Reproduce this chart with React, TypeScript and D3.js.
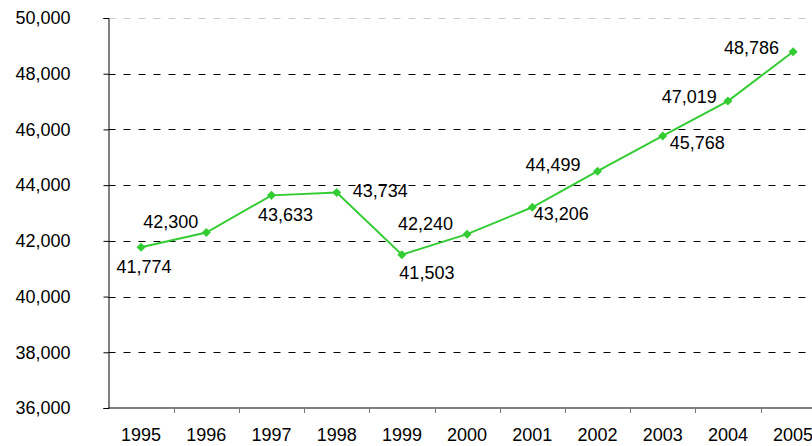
import React, { useRef, useEffect } from 'react';
import * as d3 from 'd3';

const years = ['1995', '1996', '1997', '1998', '1999', '2000', '2001', '2002', '2003', '2004', '2005'];
const values = [41774, 42300, 43633, 43734, 41503, 42240, 43206, 44499, 45768, 47019, 48786];
const yTicks = [36000, 38000, 40000, 42000, 44000, 46000, 48000, 50000];

// where each value label sits relative to its point: [anchor, dx, dy]
const labelPlacement: [string, number, number][] = [
  ['middle', 3, 26],
  ['end', -8, -5],
  ['middle', 14, 26],
  ['start', 16, 4],
  ['middle', 25, 24],
  ['end', -14, -4],
  ['middle', 29, 13],
  ['end', -17, 0],
  ['start', 7, 13],
  ['end', -11, 2],
  ['end', -14, 2],
];

const W = 812;
const H = 446;
const margin = { left: 108.5, top: 18, bottom: 38 };
const band = 65.2;
const font = 'Arial, "Liberation Sans", sans-serif';

const App = () => {
  const svgRef = useRef<SVGSVGElement>(null);

  useEffect(() => {
    const svgEl = d3.select(svgRef.current);
    svgEl.selectAll('*').remove();

    const x = d3.scaleBand()
      .domain(years)
      .range([margin.left, margin.left + band * years.length])
      .paddingInner(0)
      .paddingOuter(0);

    const y = d3.scaleLinear()
      .domain([36000, 50000])
      .range([H - margin.bottom, margin.top]);

    const fmt = d3.format(',');

    // grid lines
    svgEl.append('g')
      .selectAll('line')
      .data(yTicks.slice(1))
      .enter()
      .append('line')
      .attr('x1', margin.left)
      .attr('x2', W)
      .attr('y1', d => Math.round(y(d)) + 0.5)
      .attr('y2', d => Math.round(y(d)) + 0.5)
      .attr('stroke', d => d === 50000 ? '#c8c8c8' : '#000')
      .attr('stroke-width', 1)
      .attr('stroke-dasharray', '7,8');

    // y axis
    const yAxis = d3.axisLeft(y)
      .tickValues(yTicks)
      .tickSize(5)
      .tickPadding(33)
      .tickFormat(d => fmt(d as number));

    const yAxisGroup = svgEl.append('g')
      .attr('transform', `translate(${margin.left}, 0)`)
      .call(yAxis);

    yAxisGroup.select('.domain').attr('stroke', '#000');
    yAxisGroup.selectAll('line').attr('stroke', '#000');
    yAxisGroup.selectAll('text')
      .attr('fill', '#000')
      .attr('font-size', '18px')
      .attr('font-family', font);

    // x axis
    const xAxisGroup = svgEl.append('g')
      .attr('transform', `translate(0, ${H - margin.bottom})`);

    xAxisGroup.append('line')
      .attr('x1', margin.left)
      .attr('x2', W)
      .attr('stroke', '#000');

    xAxisGroup.selectAll('.tick')
      .data(years.slice(1))
      .enter()
      .append('line')
      .attr('x1', d => Math.round(x(d)!) + 0.5)
      .attr('x2', d => Math.round(x(d)!) + 0.5)
      .attr('y1', 0)
      .attr('y2', 5)
      .attr('stroke', '#777');

    xAxisGroup.selectAll('text')
      .data(years)
      .enter()
      .append('text')
      .attr('x', d => x(d)! + x.bandwidth() / 2)
      .attr('y', 33)
      .attr('text-anchor', 'middle')
      .attr('fill', '#000')
      .attr('font-size', '18px')
      .attr('font-family', font)
      .text(d => d);

    // data line
    const cx = (i: number) => x(years[i])! + x.bandwidth() / 2;
    const chartLine = d3.line<number>()
      .x((d, i) => cx(i))
      .y(d => y(d));

    svgEl.append('path')
      .attr('d', chartLine(values))
      .attr('fill', 'none')
      .attr('stroke', '#33cc33')
      .attr('stroke-width', 2);

    const diamond = d3.symbol().type(d3.symbolDiamond2).size(52);
    svgEl.append('g')
      .selectAll('path')
      .data(values)
      .enter()
      .append('path')
      .attr('transform', (d, i) => `translate(${cx(i)}, ${y(d)})`)
      .attr('d', diamond())
      .attr('fill', '#33cc33');

    // value labels
    svgEl.append('g')
      .selectAll('text')
      .data(values)
      .enter()
      .append('text')
      .attr('x', (d, i) => cx(i) + labelPlacement[i][1])
      .attr('y', (d, i) => y(d) + labelPlacement[i][2])
      .attr('text-anchor', (d, i) => labelPlacement[i][0])
      .attr('fill', '#000')
      .attr('font-size', '18px')
      .attr('font-family', font)
      .text(d => fmt(d));
  }, []);

  return (
    <svg
      ref={svgRef}
      width={W}
      height={H}
      style={{ position: 'fixed', left: 0, top: 0, background: '#fff' }}
    />
  );
};

export default App;
